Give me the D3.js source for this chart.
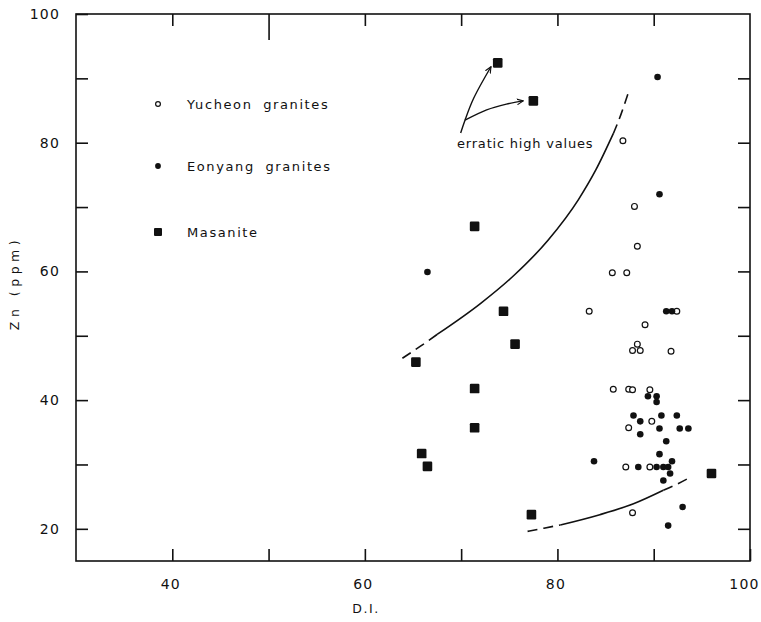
<!DOCTYPE html>
<html>
<head>
<meta charset="utf-8">
<script src="https://cdn.jsdelivr.net/npm/d3@7"></script>
<style>
  html, body { margin: 0; padding: 0; background: #fff; }
  svg { display: block; }
  text { font-family: "DejaVu Sans", sans-serif; fill: #111; }
</style>
</head>
<body>
<svg id="chart" width="761" height="622"></svg>
<script>
// ---------- data ----------
const xTicks = [40, 50, 60, 70, 80, 90, 100];
const xTickLabels = [40, 60, 80, 100];
const yTicks = [20, 30, 40, 50, 60, 70, 80, 90, 100];
const yTickLabels = [20, 40, 60, 80, 100];

// Yucheon granites (open circles): [D.I., Zn ppm]
const yucheon = [
  [86.8, 80.3], [88.0, 70.1], [88.3, 63.9], [85.7, 59.8], [87.2, 59.8],
  [83.3, 53.8], [92.4, 53.8], [89.1, 51.7], [88.3, 48.7], [87.8, 47.7],
  [88.6, 47.7], [91.8, 47.6], [85.8, 41.7], [87.4, 41.7], [87.8, 41.6],
  [89.6, 41.6], [89.8, 36.7], [87.4, 35.7], [87.1, 29.6], [89.6, 29.6],
  [87.8, 22.5]
];
// Eonyang granites (filled dots)
const eonyang = [
  [90.4, 90.2], [90.6, 72.0], [66.5, 59.9], [91.3, 53.8], [91.9, 53.8],
  [89.4, 40.6], [90.3, 40.6], [90.3, 39.7], [87.9, 37.6], [90.8, 37.6],
  [92.4, 37.6], [88.6, 36.7], [90.6, 35.6], [92.7, 35.6], [93.6, 35.6],
  [88.6, 34.7], [91.3, 33.6], [90.6, 31.6], [91.9, 30.5], [83.8, 30.5],
  [88.4, 29.6], [90.3, 29.6], [91.0, 29.6], [91.5, 29.6], [91.7, 28.6],
  [91.0, 27.5], [93.0, 23.4], [91.5, 20.5]
];
// Masanite (filled squares)
const masanite = [
  [73.8, 92.4], [77.5, 86.5], [71.4, 67.0], [74.4, 53.8], [75.6, 48.7],
  [65.3, 45.9], [71.4, 41.8], [71.4, 35.7], [65.9, 31.7], [66.5, 29.7],
  [77.3, 22.2], [96.0, 28.6]
];

// trend curves (dashed ends, solid middle)
const upperDashA = [[63.9, 46.5], [65.7, 48.3], [67.5, 50.2]];
const upperSolid = [[67.5, 50.2], [72.0, 55.0], [75.5, 59.4], [79.0, 64.8], [82.2, 71.2], [84.0, 75.8], [85.8, 81.4]];
const upperDashB = [[85.8, 81.4], [86.6, 84.4], [87.35, 87.7]];
const lowerDashA = [[76.9, 19.6], [78.6, 20.1], [80.3, 20.6]];
const lowerSolid = [[80.3, 20.6], [84.4, 22.2], [87.9, 23.9], [91.0, 26.0]];
const lowerDashB = [[91.0, 26.0], [92.5, 27.0], [93.9, 28.1]];

// annotation arrows
const arrow1 = [[69.95, 81.5], [70.4, 83.5], [71.3, 86.9], [73.1, 91.8]];
const arrow2 = [[70.4, 83.5], [72.65, 85.1], [74.7, 86.0], [76.45, 86.5]];

const legendItems = ["Yucheon granites", "Eonyang granites", "Masanite"];

// ---------- layout ----------
const svg = d3.select("#chart");
const x = d3.scaleLinear().domain([30, 100]).range([76, 750]);
const y = d3.scaleLinear().domain([15, 100]).range([561, 14]);

// frame
svg.append("rect")
  .attr("x", x(30)).attr("y", y(100))
  .attr("width", x(100) - x(30)).attr("height", y(15) - y(100))
  .attr("fill", "none").attr("stroke", "#111").attr("stroke-width", 1.6);

const fmtX = d => xTickLabels.includes(d) ? d : "";
const fmtY = d => yTickLabels.includes(d) ? d : "";

const gB = svg.append("g").attr("transform", `translate(0,${y(15)})`)
  .call(d3.axisBottom(x).tickValues(xTicks).tickSize(-12).tickPadding(18).tickFormat(fmtX));
const gL = svg.append("g").attr("transform", `translate(${x(30)},0)`)
  .call(d3.axisLeft(y).tickValues(yTicks).tickSize(-12).tickPadding(16).tickFormat(fmtY));
const gR = svg.append("g").attr("transform", `translate(${x(100)},0)`)
  .call(d3.axisRight(y).tickValues(yTicks.filter(v => v < 100)).tickSize(-12).tickFormat(""));
const gT = svg.append("g").attr("transform", `translate(0,${y(100)})`)
  .call(d3.axisTop(x).tickValues(xTicks.filter(v => v < 100)).tickSize(-12).tickFormat(""));
gT.selectAll(".tick line").filter(d => d === 50).attr("y2", 26);

[gB, gL, gR, gT].forEach(g => {
  g.attr("font-size", null).attr("font-family", null);
  g.select(".domain").remove();
  g.selectAll(".tick line").attr("stroke", "#111").attr("stroke-width", 1.6);
  g.selectAll("text")
    .style("font-size", "14px").style("letter-spacing", "1.2px")
    .style("font-family", "'DejaVu Sans', sans-serif").attr("fill", "#111");
});
gB.selectAll("text").attr("dx", d => d === 100 ? -6 : -2);

// axis titles
svg.append("text").attr("x", 366).attr("y", 613)
  .attr("text-anchor", "middle").style("font-size", "12.5px").style("letter-spacing", "1.5px")
  .text("D.I.");
svg.append("text")
  .attr("transform", `translate(19,283) rotate(-90)`)
  .attr("text-anchor", "middle").style("font-size", "12.5px").style("letter-spacing", "4.5px")
  .text("Zn (ppm)");

// curves
const line = d3.line().x(d => x(d[0])).y(d => y(d[1])).curve(d3.curveMonotoneX);
const curveG = svg.append("g").attr("fill", "none").attr("stroke", "#111").attr("stroke-width", 1.6);
[upperDashA, upperDashB, lowerDashA, lowerDashB].forEach(p =>
  curveG.append("path").attr("d", line(p)).attr("stroke-dasharray", "10,6"));
[upperSolid, lowerSolid].forEach(p =>
  curveG.append("path").attr("d", line(p)));

// arrows
const arrowLine = d3.line().x(d => x(d[0])).y(d => y(d[1])).curve(d3.curveCatmullRom);
const defs = svg.append("defs");
defs.append("marker").attr("id", "arr")
  .attr("viewBox", "0 0 10 10").attr("refX", 9).attr("refY", 5)
  .attr("markerWidth", 7).attr("markerHeight", 7).attr("orient", "auto")
  .attr("markerUnits", "userSpaceOnUse")
  .append("path").attr("d", "M0,1 L9,5 L0,9").attr("fill", "none")
  .attr("stroke", "#111").attr("stroke-width", 1.6);
[arrow1, arrow2].forEach(p =>
  svg.append("path").attr("d", arrowLine(p)).attr("fill", "none")
    .attr("stroke", "#111").attr("stroke-width", 1.4).attr("marker-end", "url(#arr)"));

svg.append("text").attr("x", 457).attr("y", 148)
  .style("font-size", "13px").style("letter-spacing", "0.8px")
  .text("erratic high values");

// points
svg.append("g").selectAll("circle").data(yucheon).join("circle")
  .attr("cx", d => x(d[0])).attr("cy", d => y(d[1])).attr("r", 2.9)
  .attr("fill", "#fff").attr("stroke", "#111").attr("stroke-width", 1.2);
svg.append("g").selectAll("circle").data(eonyang).join("circle")
  .attr("cx", d => x(d[0])).attr("cy", d => y(d[1])).attr("r", 3.3)
  .attr("fill", "#111");
svg.append("g").selectAll("rect").data(masanite).join("rect")
  .attr("x", d => x(d[0]) - 4.8).attr("y", d => y(d[1]) - 4.8)
  .attr("width", 9.6).attr("height", 9.6).attr("rx", 1.2)
  .attr("fill", "#111");

// legend
const leg = svg.append("g");
const legY = [104, 166, 232];
leg.append("circle").attr("cx", 158).attr("cy", legY[0]).attr("r", 2.4)
  .attr("fill", "#fff").attr("stroke", "#111").attr("stroke-width", 1.2);
leg.append("circle").attr("cx", 158).attr("cy", legY[1]).attr("r", 2.9).attr("fill", "#111");
leg.append("rect").attr("x", 154).attr("y", legY[2] - 4).attr("width", 8).attr("height", 8)
  .attr("rx", 1).attr("fill", "#111");
leg.selectAll("text").data(legendItems).join("text")
  .attr("x", 187).attr("y", (d, i) => legY[i] + 5)
  .style("font-size", "13px").style("letter-spacing", "1.6px").style("word-spacing", "5px")
  .text(d => d);
</script>
</body>
</html>
